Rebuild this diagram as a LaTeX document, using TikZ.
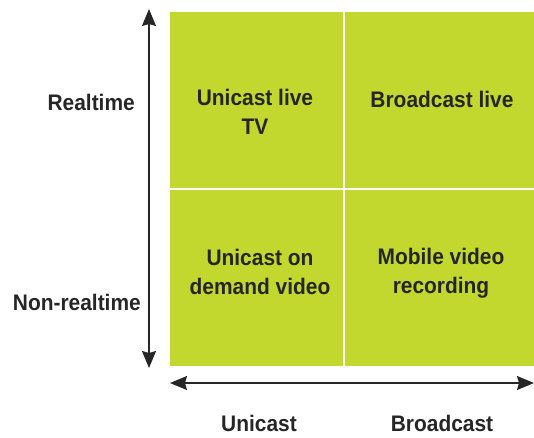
\documentclass[tikz,border=0pt]{standalone}
\usepackage{fontspec}
\setmainfont{Liberation Sans}[FakeStretch=0.93]
\usetikzlibrary{arrows.meta}
\definecolor{cellgreen}{RGB}{195,216,47}
\definecolor{ink}{RGB}{38,38,38}
\tikzset{
  cell/.style={draw=none, fill=cellgreen, minimum width=#1, inner sep=0pt, anchor=north west},
  lbl/.style={text=ink, font=\fontsize{22.5}{29}\selectfont\bfseries, align=center, inner sep=0pt},
  axis/.style={draw=ink, line width=1.4pt, {Stealth[length=17pt,width=14pt,inset=2pt]}-{Stealth[length=17pt,width=14pt,inset=2pt]}}
}
\begin{document}
\begin{tikzpicture}[x=1pt,y=-1pt]
\useasboundingbox (0,0) rectangle (534,437);
% cells
\node[cell=173pt, minimum height=176pt] (c11) at (170,12) {};
\node[cell=189pt, minimum height=176pt] (c12) at (345,12) {};
\node[cell=173pt, minimum height=176pt] (c21) at (170,190) {};
\node[cell=189pt, minimum height=176pt] (c22) at (345,190) {};
% cell texts
\node[lbl] (t11) at (255,112) {Unicast live\\TV};
\node[lbl, anchor=base] (t12) at (442,107) {Broadcast live};
\node[lbl] (t21) at (260,272) {Unicast on\\demand video};
\node[lbl] (t22) at (441,273) {Mobile video\\recording};
% axis labels
\node[lbl, anchor=base east] (rt) at (135,110) {Realtime};
\node[lbl, anchor=base east] (nrt) at (141,310) {Non-realtime};
\node[lbl, anchor=base] (uc) at (259,431) {Unicast};
\node[lbl, anchor=base] (bc) at (442,431) {Broadcast};
% axes
\coordinate (vtop) at (149,9);
\coordinate (vbot) at (149,368);
\coordinate (hl) at (170,383);
\coordinate (hr) at (534,383);
\draw[axis] (vtop) -- (vbot);
\draw[axis] (hl) -- (hr);
\end{tikzpicture}
\end{document}
